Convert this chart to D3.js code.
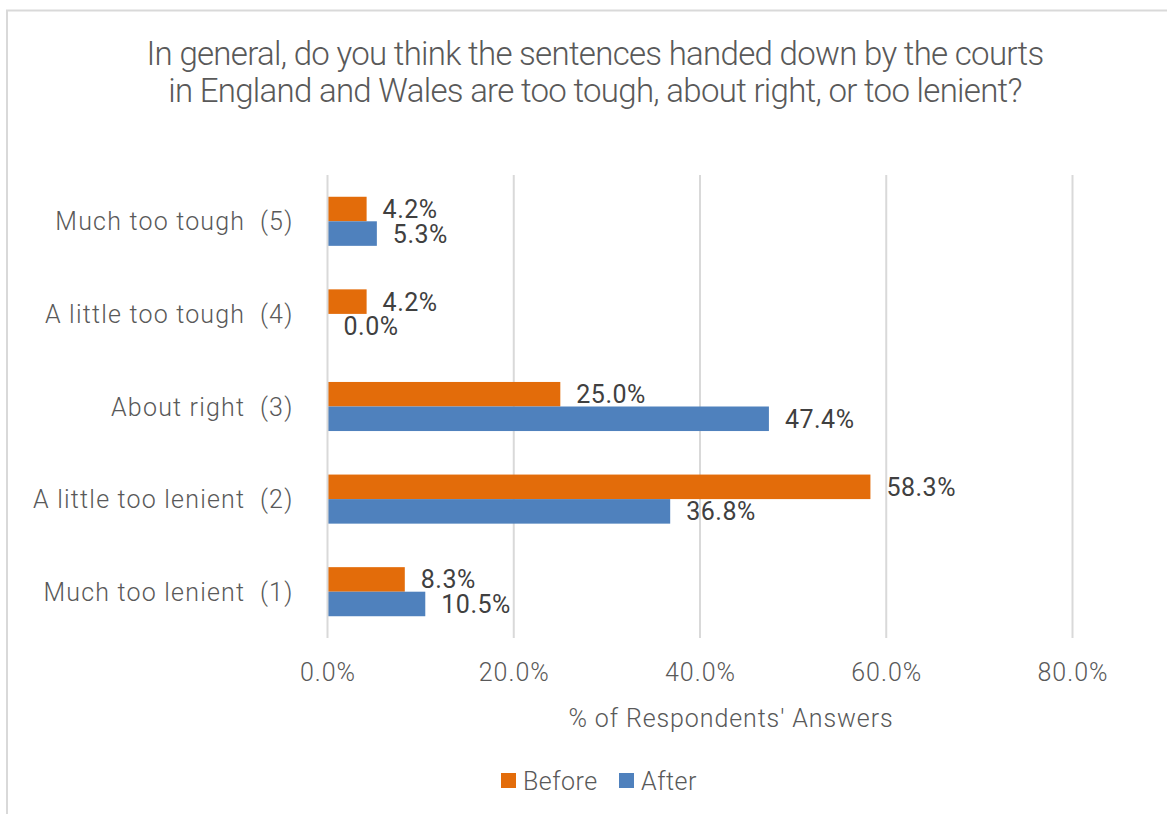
<!DOCTYPE html>
<html>
<head>
<meta charset="utf-8">
<script src="https://cdn.jsdelivr.net/npm/d3@7"></script>
<style>
  html, body { margin: 0; padding: 0; background: #fff; }
  svg { display: block; font-family: Roboto, "Noto Sans", sans-serif; }
  text { white-space: pre; }
</style>
</head>
<body>
<svg id="chart" width="1167" height="814"></svg>
<script>
// Survey responses, top row first
const categories = [
  "Much too tough  (5)",
  "A little too tough  (4)",
  "About right  (3)",
  "A little too lenient  (2)",
  "Much too lenient  (1)"
];
const seriesNames = ["Before", "After"];
const beforeValues = [4.2, 4.2, 25.0, 58.3, 8.3];
const afterValues = [5.3, 0.0, 47.4, 36.8, 10.5];
const tickValues = [0, 20, 40, 60, 80];
const titleLines = [
  "In general, do you think the sentences handed down by the courts",
  "in England and Wales are too tough, about right, or too lenient?"
];
const axisTitle = "% of Respondents' Answers";
const colors = { Before: "#E36C0A", After: "#4F81BD" };

const seriesValues = { Before: beforeValues, After: afterValues };
const rows = categories.map((c, i) => ({
  category: c,
  values: seriesNames.map(s => ({ series: s, value: seriesValues[s][i] }))
}));

const svg = d3.select("#chart");

// Outer chart frame
svg.append("path")
  .attr("d", "M7,814 V10.5 H1167")
  .attr("fill", "none")
  .attr("stroke", "#d9d9d9")
  .attr("stroke-width", 2);

// Title
svg.append("g").selectAll("text")
  .data(titleLines)
  .join("text")
  .attr("x", 595)
  .attr("y", (d, i) => 65 + i * 37)
  .attr("text-anchor", "middle")
  .attr("font-size", 33)
  .attr("font-weight", 300)
  .attr("letter-spacing", -0.7)
  .attr("fill", "#595959")
  .text(d => d);

const plot = { left: 327.5, right: 1072.5, top: 175, bottom: 638 };

const x = d3.scaleLinear().domain([0, 80]).range([plot.left, plot.right]);
const y = d3.scaleBand().domain(categories).range([plot.top, plot.bottom])
  .paddingInner(0.47).paddingOuter(0.235);
const ySub = d3.scaleBand().domain(seriesNames).range([0, y.bandwidth()]);

// Vertical gridlines
svg.append("g").selectAll("line")
  .data(tickValues.slice(1))
  .join("line")
  .attr("x1", d => x(d)).attr("x2", d => x(d))
  .attr("y1", plot.top).attr("y2", plot.bottom)
  .attr("stroke", "#d9d9d9").attr("stroke-width", 2);

// Bars
const groups = svg.append("g").selectAll("g")
  .data(rows)
  .join("g")
  .attr("transform", d => `translate(0,${y(d.category)})`);

groups.selectAll("rect")
  .data(d => d.values)
  .join("rect")
  .attr("x", x(0))
  .attr("y", d => ySub(d.series))
  .attr("width", d => x(d.value) - x(0))
  .attr("height", ySub.bandwidth())
  .attr("fill", d => colors[d.series]);

// Value labels
groups.selectAll("text")
  .data(d => d.values)
  .join("text")
  .attr("x", d => x(d.value) + 16)
  .attr("y", d => ySub(d.series) + ySub.bandwidth() / 2)
  .attr("dy", "0.36em")
  .attr("font-size", 25)
  .attr("letter-spacing", 0.5)
  .attr("fill", "#404040")
  .text(d => d3.format(".1f")(d.value) + "%");

// Category axis line
svg.append("line")
  .attr("x1", x(0)).attr("x2", x(0))
  .attr("y1", plot.top).attr("y2", plot.bottom)
  .attr("stroke", "#d9d9d9").attr("stroke-width", 2);

// Category labels
const yAxis = svg.append("g")
  .attr("transform", `translate(${x(0) - 34},0)`)
  .call(d3.axisLeft(y).tickSize(0).tickPadding(0));
yAxis.select(".domain").remove();
yAxis.selectAll("text")
  .attr("font-family", "Roboto, sans-serif")
  .attr("font-size", 25)
  .attr("font-weight", 300)
  .attr("letter-spacing", 1.2)
  .attr("fill", "#595959")
  .attr("dy", "0.36em");

// Value axis labels
const xAxis = svg.append("g")
  .attr("transform", `translate(0,${plot.bottom})`)
  .call(d3.axisBottom(x).tickValues(tickValues).tickSize(0).tickPadding(0)
    .tickFormat(d => d3.format(".1f")(d) + "%"));
xAxis.select(".domain").remove();
xAxis.selectAll("text")
  .attr("font-family", "Roboto, sans-serif")
  .attr("font-size", 25)
  .attr("font-weight", 300)
  .attr("letter-spacing", 1)
  .attr("fill", "#595959")
  .attr("y", 43)
  .attr("dy", 0);

// Value axis title
svg.append("text")
  .attr("x", 731)
  .attr("y", 727)
  .attr("text-anchor", "middle")
  .attr("font-size", 25)
  .attr("font-weight", 300)
  .attr("letter-spacing", 0.9)
  .attr("fill", "#595959")
  .text(axisTitle);

// Legend
const legendItems = [
  { name: "Before", x: 501 },
  { name: "After", x: 619 }
];
const legend = svg.append("g").selectAll("g")
  .data(legendItems)
  .join("g")
  .attr("transform", d => `translate(${d.x},773)`);
legend.append("rect")
  .attr("width", 15).attr("height", 15)
  .attr("fill", d => colors[d.name]);
legend.append("text")
  .attr("x", 22).attr("y", 17)
  .attr("font-size", 25)
  .attr("font-weight", 300)
  .attr("letter-spacing", 0.5)
  .attr("fill", "#595959")
  .text(d => d.name);
</script>
</body>
</html>
